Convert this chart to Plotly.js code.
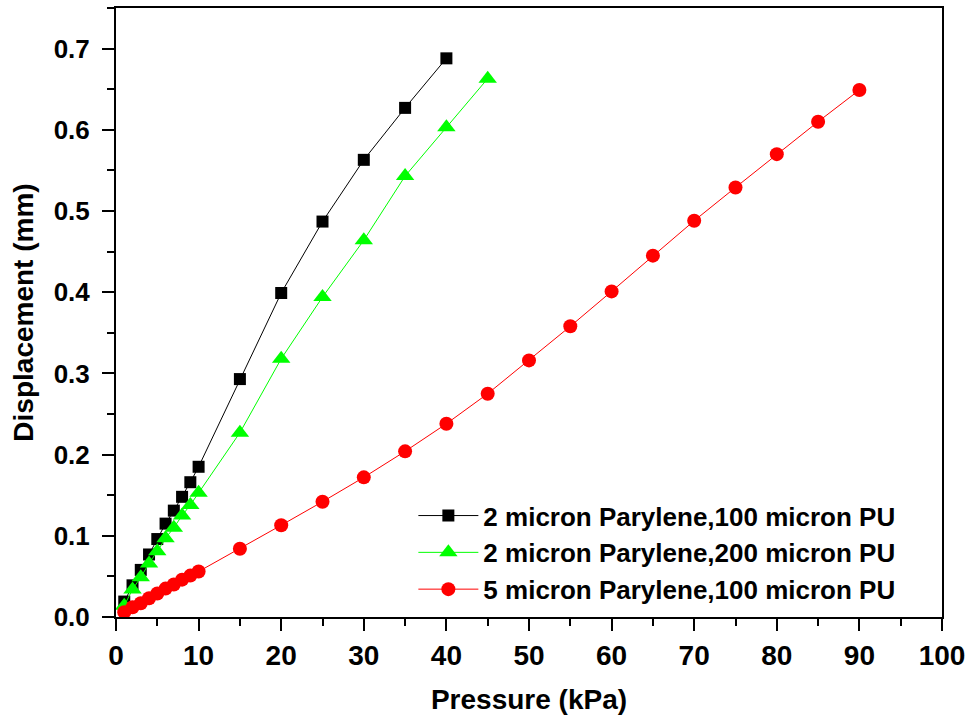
<!DOCTYPE html>
<html><head><meta charset="utf-8">
<script src="https://cdn.plot.ly/plotly-3.0.1.min.js"></script>
<style>body{margin:0;background:#fff}#c{width:970px;height:721px}</style>
</head><body><div id="c"></div>
<script>
const pressureA = [1,2,3,4,5,6,7,8,9,10,15,20,25,30,35,40];
const dispA = [0.019,0.039,0.058,0.077,0.096,0.115,0.131,0.148,0.166,0.185,0.293,0.399,0.487,0.563,0.627,0.688];
const pressureB = [1,2,3,4,5,6,7,8,9,10,15,20,25,30,35,40,45];
const dispB = [0.014,0.034,0.049,0.066,0.081,0.097,0.110,0.125,0.138,0.153,0.227,0.318,0.394,0.464,0.543,0.603,0.663];
const pressureC = [1,2,3,4,5,6,7,8,9,10,15,20,25,30,35,40,45,50,55,60,65,70,75,80,85,90];
const dispC = [0.006,0.012,0.017,0.023,0.029,0.035,0.040,0.046,0.051,0.056,0.084,0.113,0.142,0.172,0.204,0.238,0.275,0.316,0.358,0.401,0.445,0.488,0.529,0.570,0.610,0.649];
const names = ["2 micron Parylene,100 micron PU","2 micron Parylene,200 micron PU","5 micron Parylene,100 micron PU"];

const traces = [
  {x: pressureA, y: dispA, name: names[0], mode: 'lines+markers',
   line: {color: '#000000', width: 1}, marker: {symbol: 'square', size: 12, color: '#000000'}},
  {x: pressureB, y: dispB, name: names[1], mode: 'lines+markers',
   line: {color: '#00ff00', width: 1}, marker: {symbol: 'triangle-up', size: 16, color: '#00ff00'}},
  {x: pressureC, y: dispC, name: names[2], mode: 'lines+markers',
   line: {color: '#ff0000', width: 1}, marker: {symbol: 'circle', size: 14, color: '#ff0000'}}
];

const F = 'Liberation Sans, Arial, sans-serif';
const layout = {
  width: 970, height: 721,
  margin: {l: 116, r: 28, t: 8, b: 104},
  paper_bgcolor: '#fff', plot_bgcolor: '#fff',
  showlegend: true,
  legend: {x: 0.36, y: 0.205, xanchor: 'left', yanchor: 'top', bgcolor: 'rgba(0,0,0,0)',
    font: {family: F, size: 26, color: '#000', weight: 'bold'},
    tracegroupgap: 0, itemwidth: 60},
  xaxis: {
    range: [0, 100], dtick: 10, tick0: 0,
    showline: true, linewidth: 2, linecolor: '#000', mirror: true,
    ticks: 'outside', ticklen: 12, tickwidth: 2, tickcolor: '#000',
    minor: {dtick: 5, ticks: 'outside', ticklen: 7, tickwidth: 2, tickcolor: '#000'},
    showgrid: false, zeroline: false, ticklabelstandoff: 0,
    tickfont: {family: F, size: 28, color: '#000', weight: 'bold'},
    title: {text: 'Pressure (kPa)', standoff: 20,
      font: {family: F, size: 28, color: '#000', weight: 'bold'}}
  },
  yaxis: {
    range: [0, 0.75], dtick: 0.1, tick0: 0, tickformat: '.1f',
    showline: true, linewidth: 2, linecolor: '#000', mirror: true,
    ticks: 'outside', ticklen: 12, tickwidth: 2, tickcolor: '#000',
    minor: {dtick: 0.05, ticks: 'outside', ticklen: 7, tickwidth: 2, tickcolor: '#000'},
    showgrid: false, zeroline: false, ticklabelstandoff: 7,
    tickfont: {family: F, size: 26, color: '#000', weight: 'bold'},
    title: {text: 'Displacement (mm)', standoff: 12,
      font: {family: F, size: 28, color: '#000', weight: 'bold'}}
  }
};
Plotly.newPlot('c', traces, layout, {displayModeBar: false, staticPlot: true});
</script></body></html>
